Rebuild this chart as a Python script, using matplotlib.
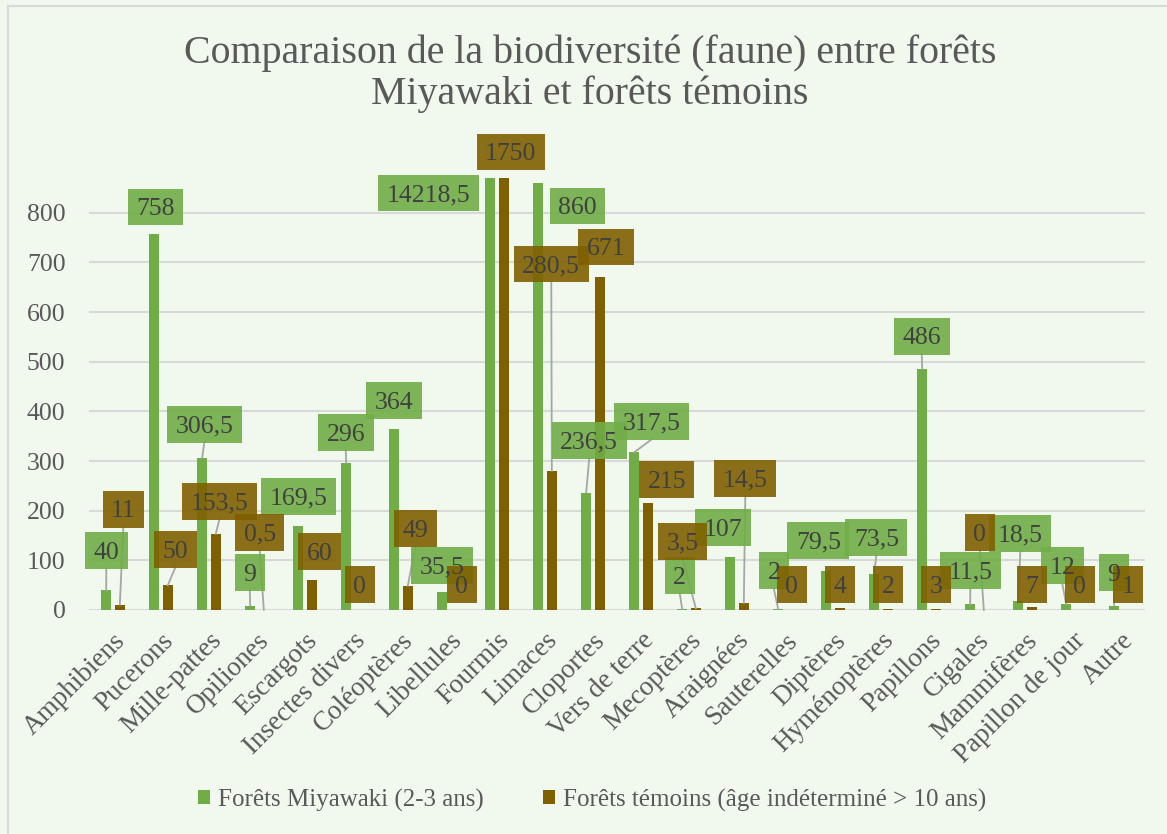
import matplotlib
matplotlib.use("Agg")
import matplotlib.pyplot as plt
from matplotlib.patches import Rectangle, Patch
from matplotlib.lines import Line2D
from matplotlib.transforms import IdentityTransform

# ---------------- data ----------------
categories = ["Amphibiens", "Pucerons", "Mille-pattes", "Opiliones", "Escargots",
              "Insectes divers", "Coléoptères", "Libellules", "Fourmis", "Limaces",
              "Cloportes", "Vers de terre", "Mecoptères", "Araignées", "Sauterelles",
              "Diptères", "Hyménoptères", "Papillons", "Cigales", "Mammifères",
              "Papillon de jour", "Autre"]
miyawaki = [40, 758, 306.5, 9, 169.5, 296, 364, 35.5, 14218.5, 860, 236.5, 317.5,
            2, 107, 2, 79.5, 73.5, 486, 11.5, 18.5, 12, 9]
temoins = [11, 50, 153.5, 0.5, 60, 0, 49, 0, 1750, 280.5, 671, 215,
           3.5, 14.5, 0, 4, 2, 3, 0, 7, 0, 1]
series_names = ["Forêts Miyawaki (2-3 ans)", "Forêts témoins (âge indéterminé > 10 ans)"]
yticks = [0, 100, 200, 300, 400, 500, 600, 700, 800]
title_lines = ["Comparaison de la biodiversité (faune) entre forêts",
               "Miyawaki et forêts témoins"]

# label layout: (dx from category centre, y in value units, leader line)
green_label_layout = [(-0.140, 119.9, True), (-0.108, 811.4, False), (-0.098, 374.2, True),
                      (-0.150, 76.0, True), (-0.140, 229.1, False), (-0.150, 358.0, True),
                      (-0.150, 422.1, False), (-0.140, 90.1, False), (-1.431, 839.6, False),
                      (0.683, 813.4, False), (-0.079, 341.9, True), (0.215, 380.2, True),
                      (-0.192, 69.9, True), (-0.296, 166.6, False), (-0.233, 80.0, True),
                      (-0.306, 140.4, False), (-0.098, 146.5, True), (-0.150, 551.5, True),
                      (-0.140, 80.0, True), (-0.098, 154.5, True), (-0.223, 90.1, True),
                      (-0.150, 76.0, True)]
brown_label_layout = [(0.215, 203.1, True), (0.298, 122.3, True), (0.215, 219.0, True),
                      (0.058, 156.6, True), (0.298, 118.3, False), (0.142, 51.8, False),
                      (0.298, 164.6, True), (0.267, 51.8, False), (0.288, 922.2, False),
                      (0.131, 696.6, True), (0.267, 730.8, False), (0.538, 263.3, False),
                      (-0.129, 138.4, True), (0.173, 265.4, True), (0.142, 51.8, False),
                      (0.142, 51.8, False), (0.142, 51.8, False), (0.142, 51.8, False),
                      (0.058, 156.6, True), (0.142, 51.8, False), (0.142, 51.8, False),
                      (0.142, 51.8, False)]

# ---------------- style ----------------
BG = "#F1F8EE"
GREEN = "#70AD47"
BROWN = "#7F6000"
GRID = "#D9D9D9"
TXT = "#595959"
LBL = "#404040"
plt.rcParams["font.family"] = ["Liberation Serif", "DejaVu Serif"]

W, H = 1167, 834
fig = plt.figure(figsize=(W / 100, H / 100), dpi=100, facecolor=BG)
ax = fig.add_axes([89 / W, 1 - 610 / H, (1145 - 89) / W, (610 - 178) / H])
ax.set_facecolor(BG)

x = list(range(len(categories)))
off, bw = 0.142, 0.22
ax.bar([i - off for i in x], miyawaki, width=bw, color=GREEN, zorder=2)
ax.bar([i + off for i in x], temoins, width=bw, color=BROWN, zorder=2)

ax.set_xlim(-0.5, len(categories) - 0.5)
ax.set_ylim(0, 870)
ax.set_yticks(yticks)
ax.set_yticklabels([str(v) for v in yticks], fontsize=18.5, color=TXT)
ax.tick_params(axis="y", length=0, pad=17)
ax.set_xticks(x)
ax.set_xticklabels(categories, rotation=45, ha="right", rotation_mode="anchor",
                   fontsize=19.5, color=TXT)
ax.tick_params(axis="x", length=0, pad=13)
for s in ax.spines.values():
    s.set_visible(False)
ax.grid(axis="y", color=GRID, lw=1.5, zorder=0)
ax.set_axisbelow(True)

# ---------------- data labels ----------------
renderer = fig.canvas.get_renderer()
to_px = ax.transData.transform


def fmt(v):
    if float(v).is_integer():
        return str(int(v))
    return str(v).replace(".", ",")


def add_labels(values, layout, bar_off, color):
    for i, (v, (dx, ly, lead)) in enumerate(zip(values, layout)):
        cx, cy = to_px((i + dx, ly))
        t = fig.text(cx, cy - 8.3, fmt(v), transform=IdentityTransform(),
                     ha="center", va="baseline", fontsize=18.5, color=LBL, zorder=7)
        tw = t.get_window_extent(renderer).width
        bwid = tw + 16.8
        bh = 36.7
        fig.add_artist(Rectangle((cx - bwid / 2, cy - bh / 2), bwid, bh,
                                 transform=IdentityTransform(), facecolor=color,
                                 edgecolor="none", alpha=0.9, zorder=6))
        if lead:
            bx, by = to_px((i + bar_off, min(v, 870)))
            fig.add_artist(Line2D([cx, bx], [cy - bh / 2, by], transform=IdentityTransform(),
                                  color="#A6A6A6", lw=1.3, zorder=5))


add_labels(miyawaki, green_label_layout, -off, GREEN)
add_labels(temoins, brown_label_layout, off, BROWN)

# ---------------- title, legend, border ----------------
fig.text(590 / W, 1 - 63 / H, title_lines[0], ha="center", va="baseline",
         fontsize=28.7, color=TXT)
fig.text(590 / W, 1 - 104 / H, title_lines[1], ha="center", va="baseline",
         fontsize=28.7, color=TXT)

handles = [Patch(facecolor=GREEN), Patch(facecolor=BROWN)]
fig.legend(handles, series_names, loc="center", bbox_to_anchor=(592 / W, 1 - 800 / H),
           ncol=2, frameon=False, fontsize=18, handlelength=0.49, handleheight=0.49,
           handletextpad=0.32, columnspacing=2.36, labelcolor=TXT, borderaxespad=0)

fig.add_artist(Line2D([7.5 / W, 7.5 / W], [0, 1 - 6 / H], transform=fig.transFigure,
                      color=GRID, lw=1.5))
fig.add_artist(Line2D([7.5 / W, 1], [1 - 6 / H, 1 - 6 / H], transform=fig.transFigure,
                      color=GRID, lw=1.5))

fig.savefig("out.png", dpi=100, facecolor=BG)
